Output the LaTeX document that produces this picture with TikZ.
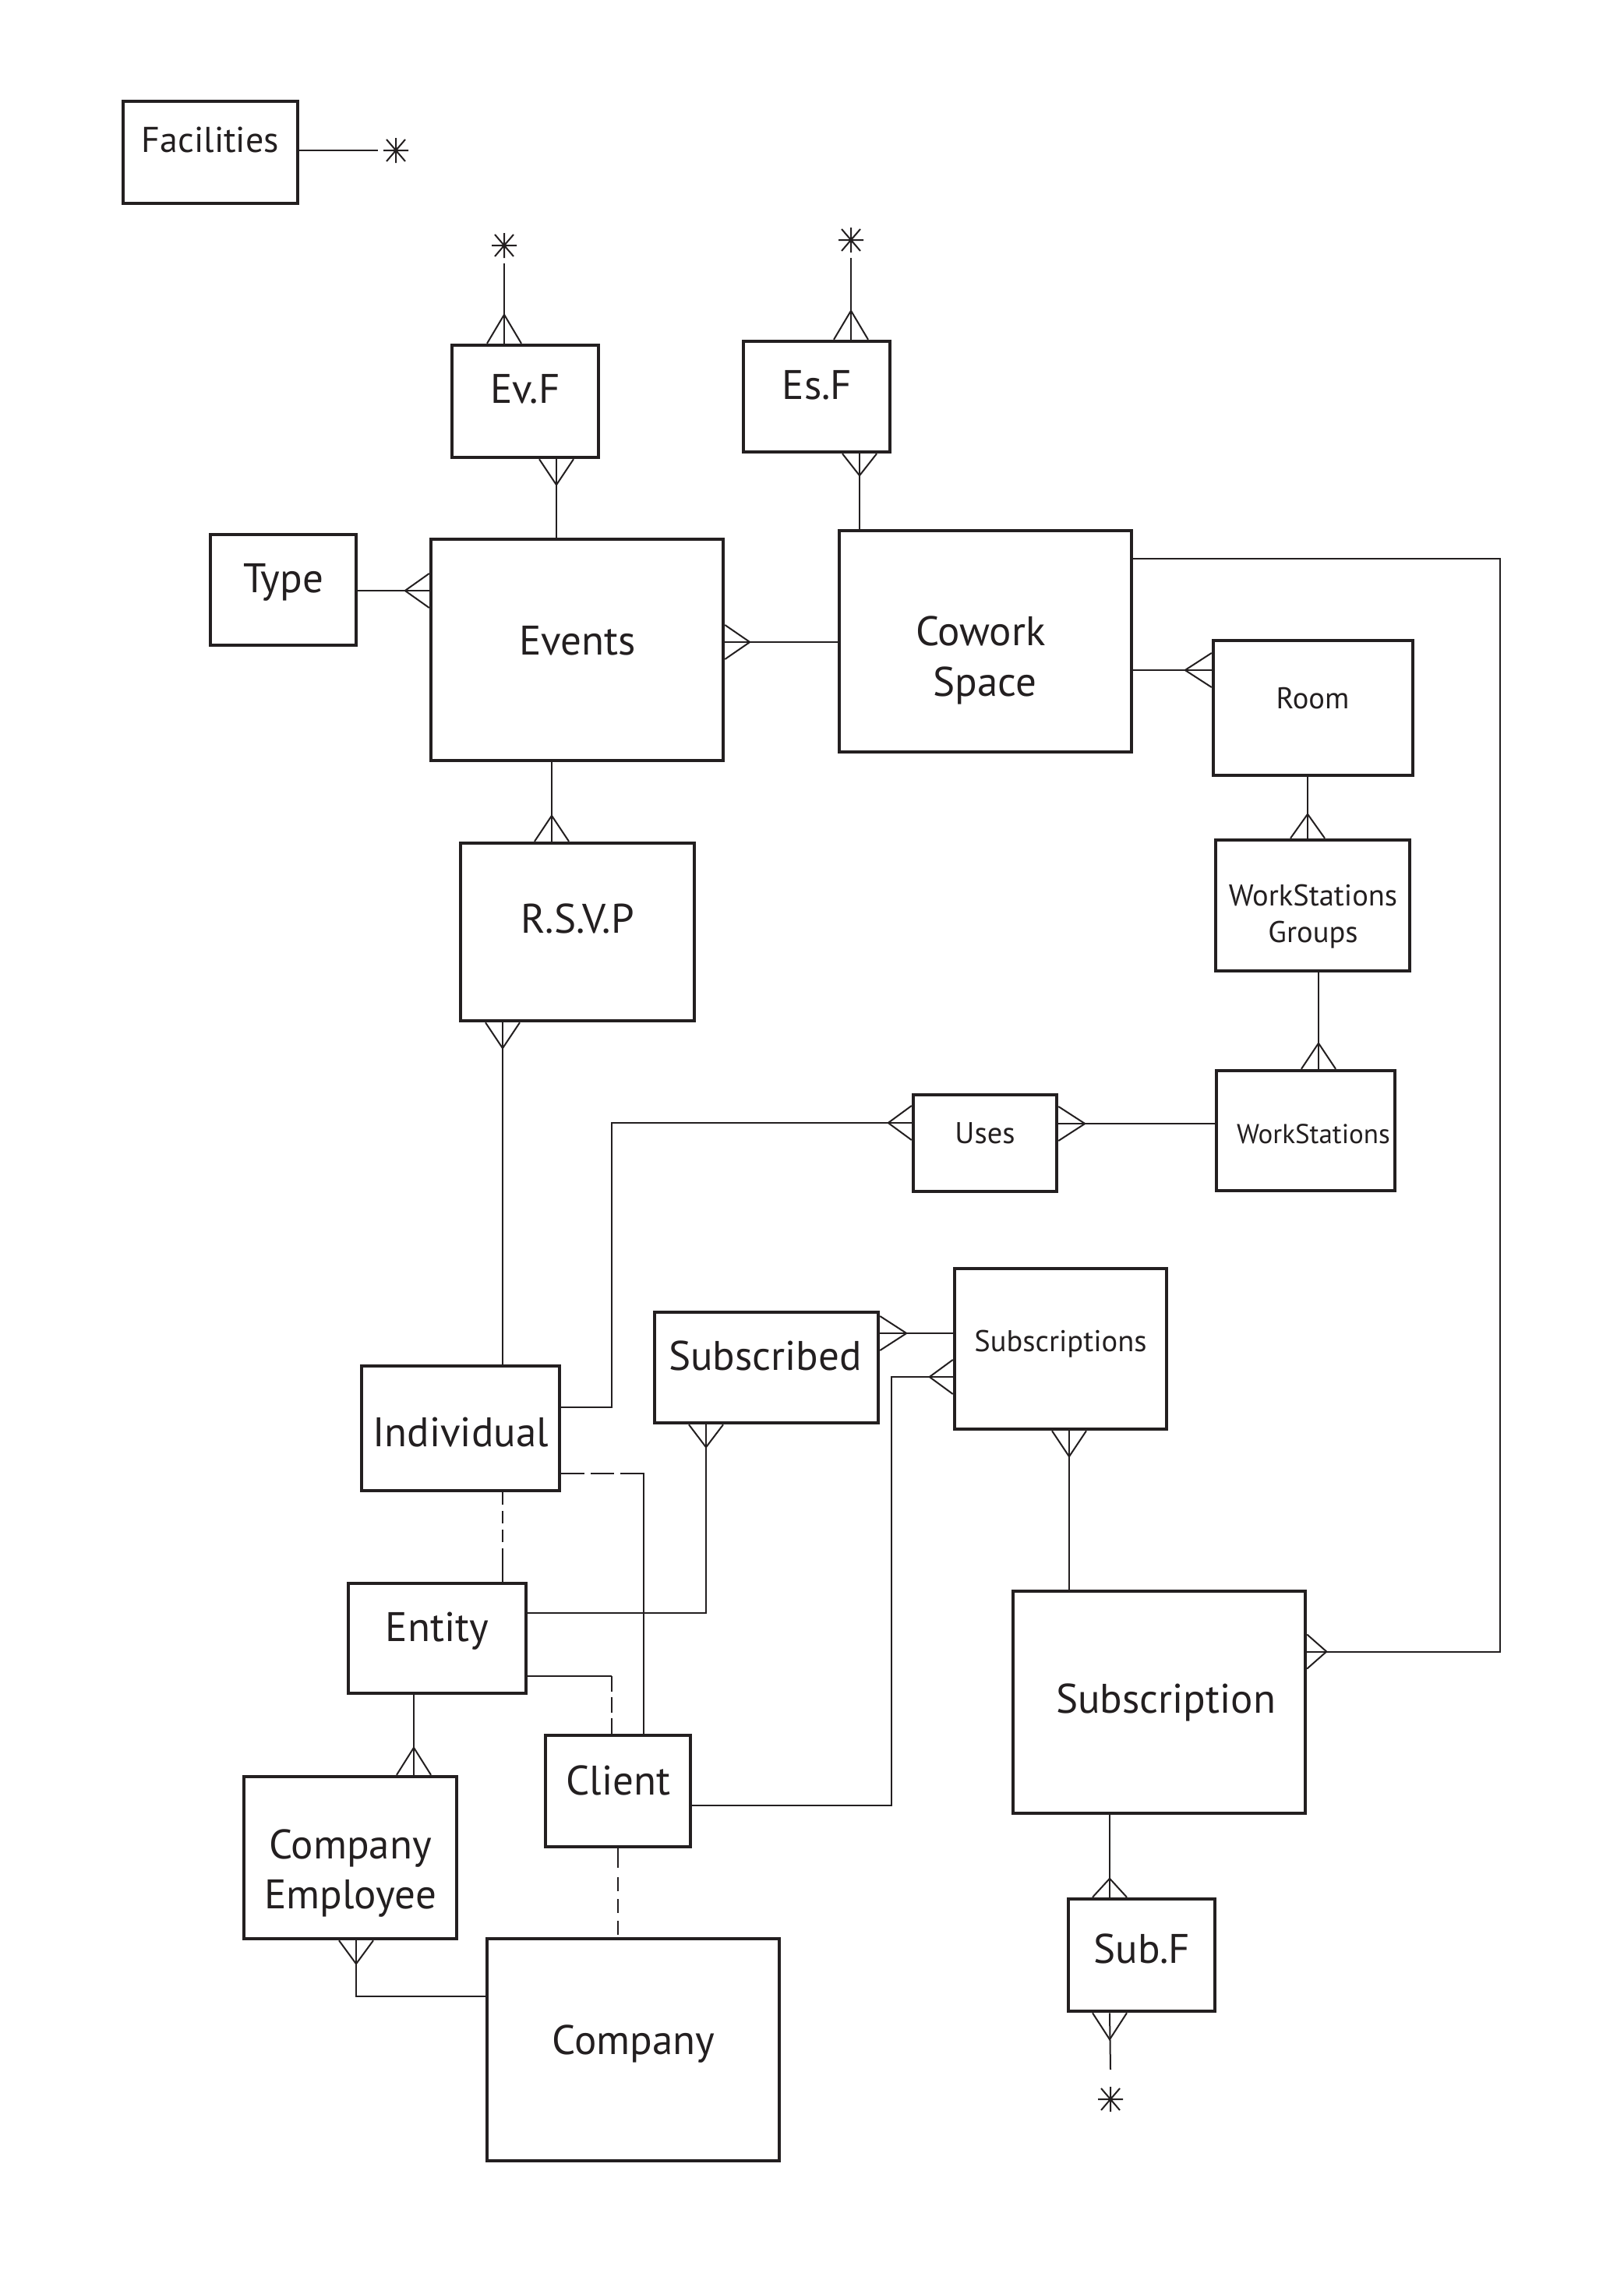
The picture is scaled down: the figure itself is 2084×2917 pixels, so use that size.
\documentclass[tikz,border=0pt]{standalone}
\usepackage{fontspec}
\setmainfont{PT Sans}
\usetikzlibrary{calc}
\definecolor{ink}{RGB}{35,31,32}
\newcommand\crowN[2]{\coordinate (cfp) at (#1); \draw[conn] ($(cfp)+(-22,0)$) -- ($(cfp)+(0,-#2)$) -- ($(cfp)+(22,0)$);}
\newcommand\crowS[2]{\coordinate (cfp) at (#1); \draw[conn] ($(cfp)+(-22,0)$) -- ($(cfp)+(0,#2)$) -- ($(cfp)+(22,0)$);}
\newcommand\crowW[2]{\coordinate (cfp) at (#1); \draw[conn] ($(cfp)+(0,-22)$) -- ($(cfp)+(-#2,0)$) -- ($(cfp)+(0,22)$);}
\newcommand\crowE[2]{\coordinate (cfp) at (#1); \draw[conn] ($(cfp)+(0,-22)$) -- ($(cfp)+(#2,0)$) -- ($(cfp)+(0,22)$);}
\newcommand\aster[3]{\node[astnode] (#1) at (#2,#3) {};
  \draw[conn] ($(#1)+(-16,0)$) -- ($(#1)+(16,0)$) ($(#1)+(0,-16)$) -- ($(#1)+(0,16)$)
  ($(#1)+(-12,-14)$) -- ($(#1)+(12,14)$) ($(#1)+(-12,14)$) -- ($(#1)+(12,-14)$);}
\begin{document}
\begin{tikzpicture}[x=1pt,y=-1pt,
  box/.style={draw=ink, line width=4.5pt, inner sep=0pt},
  conn/.style={draw=ink, line width=2pt},
  big/.style={font=\fontsize{53}{60}\selectfont, text=ink, anchor=base, inner sep=0pt},
  mid/.style={font=\fontsize{46}{52}\selectfont, text=ink, anchor=base, inner sep=0pt},
  small/.style={font=\fontsize{38.5}{44}\selectfont, text=ink, anchor=base, inner sep=0pt},
  tiny/.style={font=\fontsize{35}{40}\selectfont, text=ink, anchor=base, inner sep=0pt},
  astnode/.style={inner sep=0pt, minimum size=46pt}]
\useasboundingbox[fill=white] (0,0) rectangle (2084,2917);

% boxes
\node[box, minimum width=224pt, minimum height=131pt] (fac) at (270,195.5) {};
\node[box, minimum width=188pt, minimum height=144pt] (evf) at (674,515) {};
\node[box, minimum width=188pt, minimum height=142pt] (esf) at (1048,509) {};
\node[box, minimum width=187pt, minimum height=142pt] (type) at (363.5,757) {};
\node[box, minimum width=375pt, minimum height=284pt] (events) at (740.5,834) {};
\node[box, minimum width=375pt, minimum height=284pt] (cowork) at (1264.5,823) {};
\node[box, minimum width=256pt, minimum height=173pt] (room) at (1685,908.5) {};
\node[box, minimum width=249pt, minimum height=168pt] (wsg) at (1684.5,1162) {};
\node[box, minimum width=229pt, minimum height=154pt] (ws) at (1675.5,1451) {};
\node[box, minimum width=184pt, minimum height=124pt] (uses) at (1264,1467) {};
\node[box, minimum width=300pt, minimum height=228pt] (rsvp) at (741,1196) {};
\node[box, minimum width=254pt, minimum height=160pt] (ind) at (591,1833) {};
\node[box, minimum width=287pt, minimum height=142pt] (subd) at (983.5,1755) {};
\node[box, minimum width=272pt, minimum height=206pt] (subs) at (1361,1731) {};
\node[box, minimum width=228pt, minimum height=141pt] (entity) at (561,2102.5) {};
\node[box, minimum width=186pt, minimum height=143pt] (client) at (793,2298.5) {};
\node[box, minimum width=273pt, minimum height=208pt] (ce) at (449.5,2384) {};
\node[box, minimum width=375pt, minimum height=285pt] (company) at (812.5,2630.5) {};
\node[box, minimum width=375pt, minimum height=285pt] (subn) at (1487.5,2184.5) {};
\node[box, minimum width=188pt, minimum height=144pt] (subf) at (1465,2509) {};

% texts
\node[mid] (tFac) at (270,195) {Facilities};
\node[big] (tEvf) at (674,517) {Ev.F};
\node[big] (tEsf) at (1048.5,512) {Es.F};
\node[big] (tType) at (363.5,760) {Type};
\node[big] (tEvents) at (741,840) {Events};
\node[big] (tCow1) at (1258.5,828) {Cowork};
\node[big] (tCow2) at (1264,893) {Space};
\node[small] (tRoom) at (1684.5,909) {Room};
\node[small] (tWsg1) at (1685,1162) {WorkStations};
\node[small] (tWsg2) at (1685,1209) {Groups};
\node[tiny] (tWs) at (1685.5,1467) {WorkStations};
\node[small] (tUses) at (1264,1467) {Uses};
\node[big] (tRsvp) at (741,1197) {R.S.V.P};
\node[big] (tInd) at (591,1856) {Individual};
\node[big] (tSubd) at (982,1758) {Subscribed};
\node[small] (tSubs) at (1361,1734) {Subscriptions};
\node[big] (tEnt) at (561,2106) {Entity};
\node[big] (tCli) at (793.5,2303) {Client};
\node[big] (tCe1) at (449.6,2385) {Company};
\node[big] (tCe2) at (449.6,2449) {Employee};
\node[big] (tComp) at (813,2636) {Company};
\node[big] (tSubn) at (1496,2198) {Subscription};
\node[big] (tSubf) at (1465,2519) {Sub.F};

% asterisks
\aster{astF}{508}{193}
\aster{astEv}{647}{315}
\aster{astEs}{1092}{308}
\aster{astSub}{1425}{2694}
\coordinate (subEnd) at (1425,2656);

% connectors
\draw[conn] (fac.east |- astF.west) -- (astF.west);
\draw[conn] (astEv.south) -- (astEv.south |- evf.north); \crowN{astEv.south |- evf.north}{37}
\draw[conn] (714,0 |- evf.south) -- (714,0 |- events.north); \crowS{714,0 |- evf.south}{33}
\draw[conn] (astEs.south) -- (astEs.south |- esf.north); \crowN{astEs.south |- esf.north}{37}
\draw[conn] (1103,0 |- esf.south) -- (1103,0 |- cowork.north); \crowS{1103,0 |- esf.south}{28}
\draw[conn] (type.east |- 0,758) -- (events.west |- 0,758); \crowW{events.west |- 0,758}{31}
\draw[conn] (events.east |- 0,824) -- (cowork.west |- 0,824); \crowE{events.east |- 0,824}{32}
\draw[conn] (cowork.east |- 0,717) -- (1925,717) -- (1925,2119.5) -- (subn.east |- 0,2119.5); \crowE{subn.east |- 0,2119.5}{25}
\draw[conn] (cowork.east |- 0,860) -- (room.west |- 0,860); \crowW{room.west |- 0,860}{34}
\draw[conn] (1678,0 |- room.south) -- (1678,0 |- wsg.north); \crowN{1678,0 |- wsg.north}{31}
\draw[conn] (1692,0 |- wsg.south) -- (1692,0 |- ws.north); \crowN{1692,0 |- ws.north}{33}
\draw[conn] (ws.west |- 0,1442) -- (uses.east |- 0,1442); \crowE{uses.east |- 0,1442}{34}
\draw[conn] (uses.west |- 0,1441) -- (785,1441) -- (785,1806) -- (ind.east |- 0,1806); \crowW{uses.west |- 0,1441}{30}
\draw[conn] (708,0 |- events.south) -- (708,0 |- rsvp.north); \crowN{708,0 |- rsvp.north}{33}
\draw[conn] (645,0 |- rsvp.south) -- (645,0 |- ind.north); \crowS{645,0 |- rsvp.south}{33}
% Individual - Client (dashed)
\draw[conn, dash pattern=on 30pt off 8pt] (ind.east |- 0,1891) -- (810,1891);
\draw[conn] (810,1891) -- (826,1891) -- (826,0 |- client.north);
% Individual - Entity (dashed)
\draw[conn, dash pattern=on 16pt off 8pt] (645,0 |- ind.south) -- (645,1995);
\draw[conn] (645,1995) -- (645,0 |- entity.north);
% Entity - Subscribed
\draw[conn] (entity.east |- 0,2070) -- (906,2070) -- (906,0 |- subd.south); \crowS{906,0 |- subd.south}{29}
% Entity - Client (dashed)
\draw[conn] (entity.east |- 0,2151) -- (785,2151);
\draw[conn, dash pattern=on 20pt off 7pt] (785,2151) -- (785,0 |- client.north);
% Entity - Company Employee
\draw[conn] (531,0 |- entity.south) -- (531,0 |- ce.north); \crowN{531,0 |- ce.north}{35}
% Company Employee - Company
\draw[conn] (457,0 |- ce.south) -- (457,2562) -- (company.west |- 0,2562); \crowS{457,0 |- ce.south}{30}
% Client - Company (dashed)
\draw[conn, dash pattern=on 25pt off 12pt on 18pt off 10pt on 18pt off 10pt on 18pt off 7pt] (793,0 |- client.south) -- (793,0 |- company.north);
% Client - Subscriptions
\draw[conn] (client.east |- 0,2317) -- (1144,2317) -- (1144,1767) -- (subs.west |- 0,1767); \crowW{subs.west |- 0,1767}{30}
% Subscribed - Subscriptions
\draw[conn] (subd.east |- 0,1711) -- (subs.west |- 0,1711); \crowE{subd.east |- 0,1711}{34}
% Subscriptions - Subscription
\draw[conn] (1372,0 |- subs.south) -- (1372,0 |- subn.north); \crowS{1372,0 |- subs.south}{33}
% Subscription - Sub.F
\draw[conn] (1424,0 |- subn.south) -- (1424,0 |- subf.north); \crowN{1424,0 |- subf.north}{24}
% Sub.F - asterisk
\draw[conn] (1424,0 |- subf.south) -- (subEnd); \crowS{1424,0 |- subf.south}{34}
\end{tikzpicture}
\end{document}
